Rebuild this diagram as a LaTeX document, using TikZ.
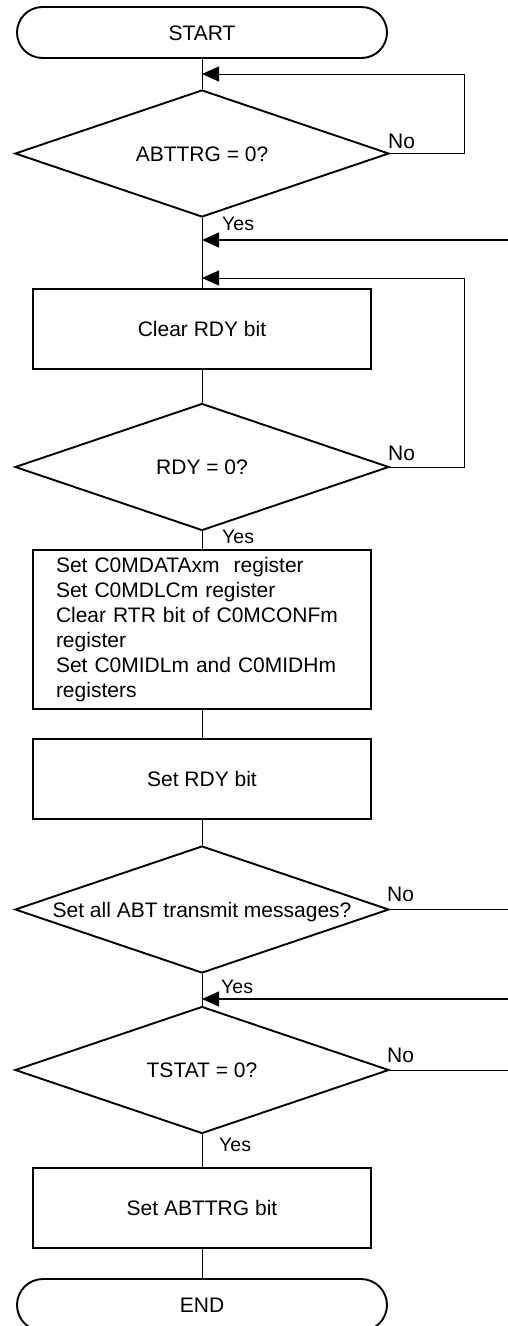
\documentclass[tikz,border=0pt]{standalone}
\usepackage{fontspec}
\setmainfont{Liberation Sans}
\usetikzlibrary{shapes.geometric,shapes.misc,arrows.meta}
\begin{document}
\begin{tikzpicture}[x=1pt,y=-1pt,
  font=\fontsize{21}{25}\selectfont,
  one/.style={text height=15pt, text depth=0pt},
  term/.style={rounded rectangle, draw, line width=1.9pt, minimum width=370pt, minimum height=51pt, inner sep=0pt, one},
  proc/.style={rectangle, draw, line width=1.9pt, minimum width=338pt, minimum height=80pt, inner sep=0pt},
  dec/.style={diamond, draw, line width=1.9pt, minimum width=374pt, minimum height=127pt, inner sep=0pt, one},
  conn/.style={line width=1pt},
  tip/.style={-{Triangle[length=17pt,width=15pt]}},
  arr/.style={line width=1.5pt, tip},
  lbl/.style={anchor=base west, inner sep=0pt},
]
\useasboundingbox (0,0) rectangle (508,1326);

% shapes
\node[term] (start) at (202,32.5) {START};
\node[dec] (d1) at (202,153.5) {\makebox[0pt]{ABTTRG = 0?}};
\node[proc, one] (b1) at (202,329) {Clear RDY bit};
\node[dec] (d2) at (202,467) {\makebox[0pt]{RDY = 0?}};
\node[proc, minimum height=159pt, text width=292pt, inner xsep=23pt, align=left] (b2) at (202,629.5)
  {Set C0MDATAxm~ register\\Set C0MDLCm register\\Clear RTR bit of C0MCONFm\\register\\Set C0MIDLm and C0MIDHm\\registers};
\node[proc, one] (b3) at (202,779) {Set RDY bit};
\node[dec] (d3) at (202,909.5) {\makebox[0pt]{Set all ABT transmit messages?}};
\node[dec] (d4) at (202,1070) {\makebox[0pt]{TSTAT = 0?}};
\node[proc, one] (b4) at (202,1208) {Set ABTTRG bit};
\node[term, minimum height=52pt] (end) at (202,1305) {END};

% merge points and page-edge ends
\coordinate (j1) at (202,74);
\coordinate (j2) at (202,240);
\coordinate (j3) at (202,278);
\coordinate (j4) at (202,999);
\coordinate (e2) at (508,240);
\coordinate (e3) at (508,909.5);
\coordinate (e4) at (508,999);
\coordinate (e5) at (508,1070);

% main flow
\draw[conn] (start.south) -- (d1.north);
\draw[conn] (d1.south) -- (b1.north);
\draw[conn] (b1.south) -- (d2.north);
\draw[conn] (d2.south) -- (b2.north);
\draw[conn] (b2.south) -- (b3.north);
\draw[conn] (b3.south) -- (d3.north);
\draw[conn] (d3.south) -- (d4.north);
\draw[conn] (d4.south) -- (b4.north);
\draw[conn] (b4.south) -- (end.north);

% loops
\draw[conn, tip] (d1.east) -- ++(75,0) |- (j1);
\draw[conn, tip] (d2.east) -- ++(75,0) |- (j3);
\draw[arr] (e2) -- (j2);
\draw[arr] (e4) -- (j4);
\draw[conn] (d3.east) -- (e3);
\draw[conn] (d4.east) -- (e5);

% labels
\node[lbl] (no1) at (388,148) {No};
\node[lbl] (no2) at (388,460) {No};
\node[lbl] (no3) at (387,901) {No};
\node[lbl] (no4) at (387,1062) {No};
\node[lbl, font=\fontsize{19.5}{23}\selectfont] (yes1) at (222,230) {Yes};
\node[lbl, font=\fontsize{19.5}{23}\selectfont] (yes2) at (222,543) {Yes};
\node[lbl, font=\fontsize{19.5}{23}\selectfont] (yes3) at (221,993) {Yes};
\node[lbl, font=\fontsize{19.5}{23}\selectfont] (yes4) at (219,1151) {Yes};
\end{tikzpicture}
\end{document}
